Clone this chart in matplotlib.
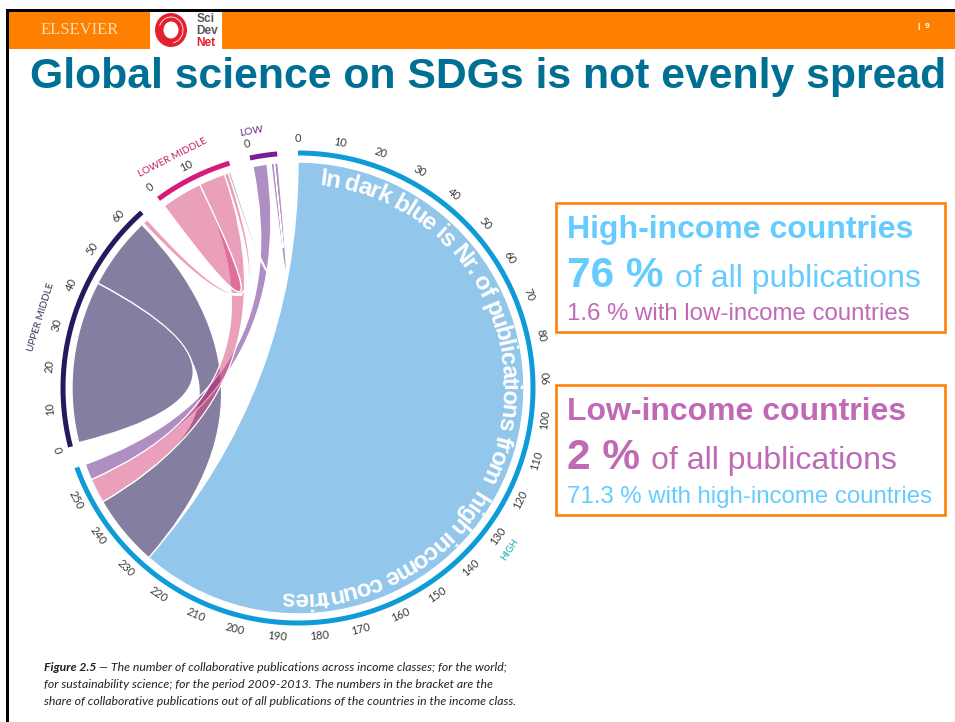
import numpy as np
import matplotlib
matplotlib.use("Agg")
import matplotlib.pyplot as plt
from matplotlib.path import Path
from matplotlib.patches import PathPatch, Rectangle, Ellipse, Arc
from matplotlib import font_manager as fm
from matplotlib.ft2font import LoadFlags

# ---- data (in publication units on each sector's own scale)
sector_names = ["HIGH", "UPPER MIDDLE", "LOWER MIDDLE", "LOW"]
sector_lengths = [257.2, 64.6, 20.0, 6.9]
sector_start_deg = [0.0, 255.5, 323.6, 348.2]
sector_ticks = [list(range(0, 251, 10)), list(range(0, 61, 10)), [0, 10], [0]]
sector_colors = ["#0E9BD8", "#221C5E", "#D81B7B", "#7A1E96"]

# one-sided lobes: sector, from, to
lobe_sector = [0, 1, 2]
lobe_from = [0.0, 0.5, 0.1]
lobe_to = [227.5, 43.3, 10.9]
lobe_color = ["#278FD7", "#0B0045", "#D74179"]

# two-sided ribbons: sector a, from, to, sector b, from, to
rib_a = [0, 0, 0, 1, 2, 3]
rib_a0 = [227.5, 246.4, 252.9, 63.0, 19.0, 5.1]
rib_a1 = [246.4, 252.9, 257.2, 64.4, 19.6, 5.9]
rib_b = [1, 2, 3, 2, 3, 3]
rib_b0 = [43.3, 10.9, 0.3, 17.9, 4.9, 6.0]
rib_b1 = [62.5, 17.9, 4.0, 19.0, 5.3, 6.9]
rib_color = ["#0B0045", "#D74179", "#612189", "#D74179", "#6a6a6a", "#612189"]

title = "Global science on SDGs is not evenly spread"
curved_text = "In dark blue is Nr. of publications from  high income countries"
caption = ["The number of collaborative publications across income classes; for the world;",
           "for sustainability science; for the period 2009-2013. The numbers in the bracket are the",
           "share of collaborative publications out of all publications of the countries in the income class."]

# ---- layout
W, H = 955, 722
CX, CY = 298, 388
R_RIB = 226
R_BAR = 235
R_LAB = 249
DEG_PER_UNIT = 0.973
SANS = "Liberation Sans"
ORANGE = "#FF7F0A"
SKY = "#66CCFF"
ORCHID = "#C06AB5"

fig = plt.figure(figsize=(W / 100, H / 100), dpi=100)
ax = fig.add_axes([0, 0, 1, 1])
ax.set_xlim(0, W)
ax.set_ylim(H, 0)
ax.axis("off")
renderer = fig.canvas.get_renderer()


def pt(b, r):
    a = np.radians(b)
    return CX + r * np.sin(a), CY - r * np.cos(a)


def bearing(sec, u):
    return sector_start_deg[sec] + DEG_PER_UNIT * u


def arc_points(b0, b1, r, n=60):
    return [pt(b, r) for b in np.linspace(b0, b1, n)]


def add_lobe(sec, u0, u1, col):
    pts = arc_points(bearing(sec, u0), bearing(sec, u1), R_RIB)
    verts = pts + [(CX, CY), pts[0], pts[0]]
    codes = [Path.MOVETO] + [Path.LINETO] * (len(pts) - 1) + [Path.CURVE3, Path.CURVE3, Path.CLOSEPOLY]
    ax.add_patch(PathPatch(Path(verts, codes), fc=matplotlib.colors.to_rgba(col, 0.5), ec="white", lw=1.0))


def add_ribbon(sa, a0, a1, sb, b0, b1, col):
    pa = arc_points(bearing(sa, a0), bearing(sa, a1), R_RIB)
    pb = arc_points(bearing(sb, b0), bearing(sb, b1), R_RIB)
    verts = pa + [(CX, CY), pb[0]] + pb[1:] + [(CX, CY), pa[0], pa[0]]
    codes = ([Path.MOVETO] + [Path.LINETO] * (len(pa) - 1) + [Path.CURVE3, Path.CURVE3]
             + [Path.LINETO] * (len(pb) - 1) + [Path.CURVE3, Path.CURVE3, Path.CLOSEPOLY])
    ax.add_patch(PathPatch(Path(verts, codes), fc=matplotlib.colors.to_rgba(col, 0.5), ec="white", lw=0.9))


# chords
add_lobe(lobe_sector[0], lobe_from[0], lobe_to[0], lobe_color[0])
add_ribbon(rib_a[0], rib_a0[0], rib_a1[0], rib_b[0], rib_b0[0], rib_b1[0], rib_color[0])
add_lobe(lobe_sector[1], lobe_from[1], lobe_to[1], lobe_color[1])
for i in [2, 1, 3, 4, 5]:
    add_ribbon(rib_a[i], rib_a0[i], rib_a1[i], rib_b[i], rib_b0[i], rib_b1[i], rib_color[i])
add_lobe(lobe_sector[2], lobe_from[2], lobe_to[2], lobe_color[2])
# white notch under the lower-middle lobe tip
ax.plot([232, 242], [294, 294], color="white", lw=2.0, solid_capstyle="butt", zorder=3)

# sector bars, tick labels
for s, (ln, col) in enumerate(zip(sector_lengths, sector_colors)):
    p = arc_points(bearing(s, 0), bearing(s, ln), R_BAR, 200)
    ax.plot(*zip(*p), color=col, lw=3.6, solid_capstyle="butt", zorder=4)
    for t in sector_ticks[s]:
        b = bearing(s, t)
        x, y = pt(b, R_LAB)
        rot = 180 - b if 85 < b < 262 else -b
        ax.text(x, y, str(t), rotation=rot, rotation_mode="anchor", ha="center", va="center",
                fontsize=8.0, family="Lato", color="#3a3a3a", zorder=5)

# sector names
ax.text(510, 550, "HIGH", rotation=56, rotation_mode="anchor", ha="center", va="center",
        fontsize=6.8, family="Lato", color="#1BA6B5")
ax.text(41, 317, "UPPER MIDDLE", rotation=73, rotation_mode="anchor", ha="center", va="center",
        fontsize=7.2, family="Lato", color="#3a3055")
ax.text(173, 158, "LOWER MIDDLE", rotation=27, rotation_mode="anchor", ha="center", va="center",
        fontsize=7.2, family="Lato", color="#C8206F")
ax.text(252, 131, "LOW", rotation=10, rotation_mode="anchor", ha="center", va="center",
        fontsize=7.4, family="Lato", color="#6B2A80")

# curved white text
fp = fm.FontProperties(family=SANS, weight="bold")
font = fm.get_font(fm.findfont(fp))
font.set_size(100, 72)
adv = []
for c in curved_text:
    g = font.load_char(ord(c), flags=LoadFlags.NO_HINTING)
    adv.append(g.linearHoriAdvance / 65536 / 100)
adv = np.array(adv)
B0, B1 = 6.0, 184.5
pos = np.cumsum(adv) - adv / 2
pos = pos / np.sum(adv)
for c, f in zip(curved_text, pos):
    b = B0 + (B1 - B0) * f
    x, y = pt(b, 204)
    ax.text(x, y, c, rotation=-b, rotation_mode="anchor", ha="center", va="baseline",
            fontsize=17.5, family=SANS, weight="bold", color="white", zorder=6)

# header band
ax.add_patch(Rectangle((7, 9), W - 7, 3, fc="black", ec="none", zorder=7))
ax.add_patch(Rectangle((6, 9), 2.5, H - 9, fc="black", ec="none", zorder=7))
ax.add_patch(Rectangle((8.5, 12), W, 37, fc="#FF8000", ec="none", zorder=7))
ax.text(80, 30, "ELSEVIER", ha="center", va="center", fontsize=12, family="Liberation Serif",
        color="#F8DDB0", zorder=8)
ax.text(924, 27, "|  9", ha="center", va="center", fontsize=6, family=SANS, weight="bold",
        color="white", zorder=8)
ax.add_patch(Rectangle((150, 12), 72, 38, fc="white", ec="none", zorder=8))
ax.add_patch(Ellipse((171, 30), 23.5, 25.5, fc="none", ec="#E3202C", lw=6.1, zorder=9))
ax.add_patch(Arc((171, 30), 24, 26, theta1=200, theta2=80, color="white", lw=0.6, zorder=10))
for s, yy, col in zip(["Sci", "Dev", "Net"], [19, 31, 43], ["#555555", "#555555", "#E3202C"]):
    ax.text(196.5, yy, s, ha="left", va="center", fontsize=8.6, family=SANS, weight="bold", color=col, zorder=9)

# title, sized so that it spans the reference's width
tt = ax.text(30, 88, title, ha="left", va="baseline", fontsize=31, family=SANS, weight="bold",
             color="#006F94", zorder=8)
tt.set_fontsize(31 * 913 / tt.get_window_extent(renderer).width)


# boxes
def box(y0, y1, head, hcol, big, tail_x, tail, sub, subcol):
    ax.add_patch(Rectangle((556, y0), 389, y1 - y0, fc="white", ec=ORANGE, lw=1.9, zorder=3))
    ax.text(567, y0 + 35, head, ha="left", va="baseline", fontsize=23.05, family=SANS, weight="bold",
            color=hcol, zorder=4)
    ax.text(567, y0 + 84, big, ha="left", va="baseline", fontsize=30.5, family=SANS, weight="bold",
            color=hcol, zorder=4)
    ax.text(tail_x, y0 + 84, tail, ha="left", va="baseline", fontsize=23, family=SANS, color=hcol, zorder=4)
    ax.text(567, y0 + 117.5, sub, ha="left", va="baseline", fontsize=17.25, family=SANS, color=subcol, zorder=4)


box(203, 332, "High-income countries", SKY, "76 %", 675, "of all publications",
    "1.6 % with low-income countries", ORCHID)
box(385, 515, "Low-income countries", ORCHID, "2 %", 651, "of all publications",
    "71.3 % with high-income countries", SKY)

# caption
CAP = 8.8
cap_kw = dict(fontsize=CAP, family="Lato", style="italic", color="#222222", va="baseline", ha="left")
h = ax.text(44, 671, "Figure 2.5", **{**cap_kw, "weight": "bold"})
x_end = h.get_window_extent(renderer).x1
ax.text(x_end + 3, 671, "\u2014 " + caption[0], **cap_kw)
ax.text(44, 688, caption[1], **cap_kw)
ax.text(44, 705, caption[2], **cap_kw)

fig.savefig("out.png", dpi=100)
